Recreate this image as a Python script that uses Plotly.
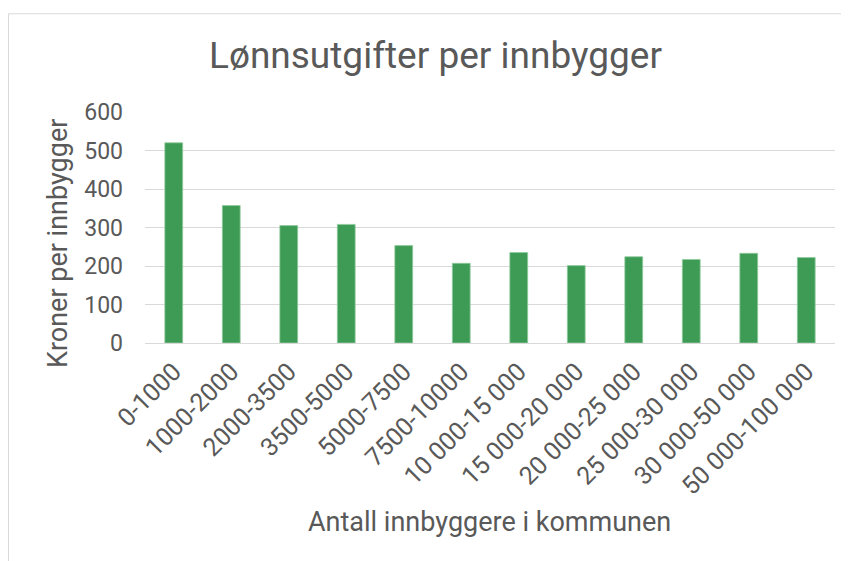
import plotly.graph_objects as go

categories = ["0-1000", "1000-2000", "2000-3500", "3500-5000", "5000-7500", "7500-10000",
              "10 000-15 000", "15 000-20 000", "20 000-25 000", "25 000-30 000",
              "30 000-50 000", "50 000-100 000"]
values = [520, 357, 305, 308, 253, 207, 235, 201, 224, 217, 233, 222]
y_ticks = [0, 100, 200, 300, 400, 500, 600]

# the page body has an 8px margin, so work in window pixels and shift
OFF = 8
WIN_W, WIN_H = 849, 561
W, H = WIN_W - OFF, WIN_H - OFF
# plot area in window pixels
PX0, PX1, PY0, PY1 = 145, 835, 112.3, 342.7
L, R, T, B = PX0 - OFF, WIN_W - PX1, PY0 - OFF, WIN_H - PY1
pw = W - L - R
ph = H - T - B

def px_x(p):
    return (p - OFF - L) / pw

def px_y(p):
    return (H - B - (p - OFF)) / ph

FONT = "Roboto"
GREY = "#595959"

fig = go.Figure()
fig.add_trace(go.Bar(
    x=categories, y=values,
    marker=dict(color="#3e9b55", line=dict(color="#8fcb9d", width=0.8)),
    width=0.31,
))

fig.update_layout(
    width=W, height=H,
    margin=dict(l=L, r=R, t=T, b=B, autoexpand=False),
    paper_bgcolor="white", plot_bgcolor="white",
    showlegend=False,
    font=dict(family=FONT, color=GREY, size=23),
    title=dict(text="Lønnsutgifter per innbygger", xref="container", yref="container",
               x=(435.5 - OFF) / W, y=1 - (55 - OFF) / H, xanchor="center", yanchor="middle",
               font=dict(family=FONT, size=37, color=GREY)),
    xaxis=dict(tickangle=-45, showgrid=False, showline=True, linecolor="#d9d9d9", linewidth=1,
               ticks="", tickfont=dict(size=25, color=GREY), zeroline=False,
               ticklabelstandoff=3),
    yaxis=dict(range=[0, 600], tickvals=y_ticks, showgrid=True, gridcolor="#d9d9d9", gridwidth=1,
               zeroline=False, showline=False, ticks="", ticklabelstandoff=21,
               tickfont=dict(size=23, color=GREY)),
    shapes=[dict(type="rect", xref="paper", yref="paper",
                 x0=px_x(8.5), x1=px_x(WIN_W + 10), y0=px_y(WIN_H + 10), y1=px_y(14.3),
                 line=dict(color="#d9d9d9", width=1), fillcolor="rgba(0,0,0,0)", layer="below")],
    annotations=[
        dict(text="Antall innbyggere i kommunen", xref="paper", yref="paper",
             x=px_x(489.5), y=px_y(521), xanchor="center", yanchor="middle", showarrow=False,
             font=dict(family=FONT, size=27, color=GREY)),
        dict(text="Kroner per innbygger", xref="paper", yref="paper", textangle=-90,
             x=px_x(58), y=px_y(244), xanchor="center", yanchor="middle", showarrow=False,
             font=dict(family=FONT, size=27, color=GREY)),
    ],
)

fig.write_html("out.html")
